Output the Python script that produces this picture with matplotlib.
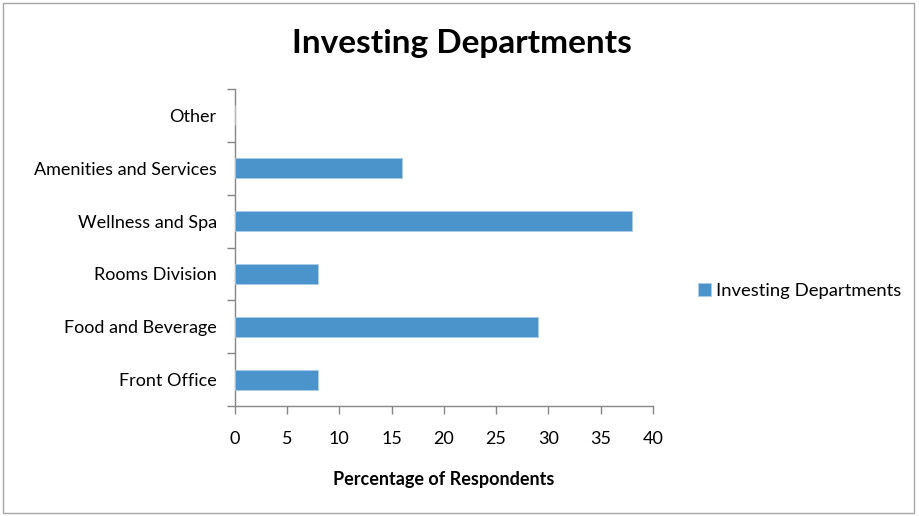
import matplotlib
matplotlib.use("Agg")
import matplotlib.pyplot as plt
from matplotlib.patches import Rectangle

plt.rcParams['font.family'] = ['Lato', 'DejaVu Sans']

categories = ["Front Office", "Food and Beverage", "Rooms Division",
              "Wellness and Spa", "Amenities and Services", "Other"]
values = [8, 29, 8, 38, 16, 0]
series_name = "Investing Departments"
x_ticks = [0, 5, 10, 15, 20, 25, 30, 35, 40]

W, H, DPI = 919, 516, 100
fig = plt.figure(figsize=(W / DPI, H / DPI), dpi=DPI)
fig.patch.set_facecolor("white")

# outer chart frame
fig.add_artist(Rectangle((3 / W, 3 / H), (914 - 3) / W, (513 - 3) / H,
                         transform=fig.transFigure, fill=False,
                         edgecolor="#A6A6A6", linewidth=1.0))

left, right, top, bottom = 234.7, 653, 89, 406
ax = fig.add_axes([left / W, 1 - bottom / H, (right - left) / W, (bottom - top) / H])

bar_color = "#4A94CB"
y = list(range(len(categories)))
ax.barh(y, values, height=0.38, color=bar_color, edgecolor="#A9CBE6",
        linewidth=0.6, label=series_name, zorder=3)

ax.set_xlim(0, 40)
ax.set_ylim(-0.5, len(categories) - 0.5)
ax.set_xticks(x_ticks)
ax.set_xticklabels([str(t) for t in x_ticks], fontsize=13)

# category boundaries carry the tick marks, labels sit in the band centres
ax.set_yticks([i - 0.5 for i in range(len(categories) + 1)])
ax.set_yticklabels([])
ax.set_yticks(y, minor=True)
ax.set_yticklabels(categories, minor=True, fontsize=13)
ax.tick_params(axis="y", which="minor", length=0, pad=13)
ax.tick_params(axis="y", which="major", length=6, color="#868686", width=1)
ax.tick_params(axis="x", length=6, color="#868686", width=1, pad=12)

for s in ["top", "right"]:
    ax.spines[s].set_visible(False)
for s in ["left", "bottom"]:
    ax.spines[s].set_color("#868686")
    ax.spines[s].set_linewidth(1)

ax.set_xlabel("Percentage of Respondents", fontsize=13, fontweight="bold",
              labelpad=17)

fig.text(462 / W, 1 - 43 / H, series_name, ha="center", va="center",
         fontsize=24, fontweight="bold")

leg = fig.legend(loc="center left", bbox_to_anchor=(681 / W, 1 - 291 / H),
                 frameon=False, fontsize=13.3, handlelength=0.7,
                 handleheight=0.7, handletextpad=0.3)

fig.savefig("out.png", dpi=DPI)
